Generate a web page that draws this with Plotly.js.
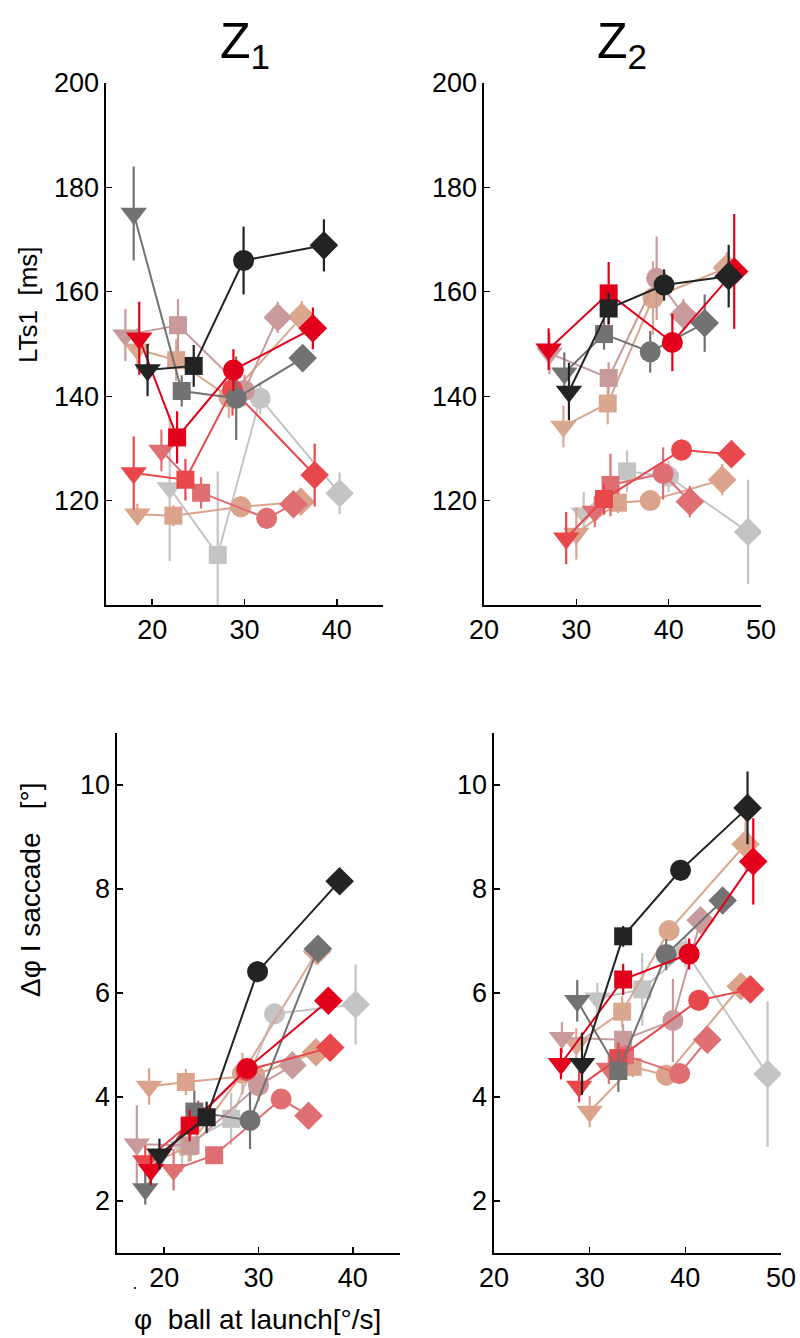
<!DOCTYPE html>
<html>
<head>
<meta charset="utf-8">
<script src="https://cdn.plot.ly/plotly-3.0.1.min.js"></script>
<style>html,body{margin:0;padding:0;background:#fff;}#chart{width:800px;height:1338px;}</style>
</head>
<body>
<div id="chart"></div>
<script>
// Subjects (one colour each). Points per subject: slowest→fastest launch speed
const subjects = ['lightgray','tanLower','tanUpper','rose','salmon','coral','darkgray','red','black'];
const subjectColors = ['#c4c4c4','#dba38c','#d9a88f','#c99a9c','#df6f72','#e8474b','#727272','#e2001a','#232323'];
const pointSymbols = ['triangle-down','square','circle','diamond'];
const pointSizes = [23,18,21,22];

// Z1: ball speed at launch [°/s]
const z1Speed = [
  [21.9, 27.1, 31.7, 40.3],
  [18.4, 22.3, 29.6, 36.1],
  [18.4, 22.6, 28.3, 36.2],
  [17.1, 22.8, 30.0, 33.6],
  [21.0, 25.3, 32.4, 35.3],
  [18.0, 23.6, 28.7, 37.6],
  [18.0, 23.2, 29.1, 36.3],
  [18.6, 22.7, 28.8, 37.4],
  [19.5, 24.5, 29.9, 38.6]
];
// Z1: LTs1 [ms] and error
const z1LT = [
  [122.4, 109.6, 139.6, 121.4],
  [117.4, 117.1, 118.8, 119.8],
  [149.0, 146.9, 139.8, 155.2],
  [151.7, 153.6, 141.1, 155.1],
  [129.6, 121.5, 116.6, 119.3],
  [125.3, 124.0, 141.3, 124.9],
  [175.0, 141.0, 139.6, 147.3],
  [151.1, 132.1, 145.0, 153.0],
  [145.0, 145.8, 166.0, 168.9]
];
const z1LTErr = [
  [14, 16, 3, 4],
  [2, 2, 2, 2],
  [4, 4, 4, 3],
  [5, 5, 3, 3],
  [4, 3, 2, 2],
  [7, 4, 5, 6],
  [9, 3, 8, 2],
  [7, 5, 4, 4],
  [5, 4, 6.5, 5]
];
// Z1: saccade amplitude [°] and error
const z1Sacc = [
  [3.05, 3.58, 5.60, 5.78],
  [4.20, 4.29, 4.42, 4.86],
  [2.70, 3.05, 4.45, 6.80],
  [3.09, 3.07, 4.22, 4.61],
  [2.60, 2.88, 3.96, 3.64],
  [2.77, 3.63, 4.51, 4.95],
  [2.23, 3.72, 3.55, 6.85],
  [2.60, 3.45, 4.55, 5.85],
  [2.90, 3.61, 6.41, 8.15]
];
const z1SaccErr = [
  [0.5, 0.5, 0.2, 0.77],
  [0.35, 0.25, 0.2, 0.2],
  [0.3, 0.3, 0.4, 0.2],
  [0.75, 0.3, 0.3, 0.15],
  [0.4, 0.15, 0.15, 0.15],
  [0.3, 0.3, 0.2, 0.25],
  [0.3, 0.4, 0.55, 0.2],
  [0.3, 0.3, 0.2, 0.2],
  [0.3, 0.3, 0.2, 0.15]
];

// Z2: ball speed at launch [°/s]
const z2Speed = [
  [30.8, 35.5, 40.0, 48.6],
  [30.0, 34.5, 38.0, 45.8],
  [28.6, 33.4, 38.3, 46.3],
  [27.1, 33.5, 38.7, 41.6],
  [32.0, 33.7, 39.4, 42.3],
  [28.9, 33.0, 41.4, 46.8],
  [28.7, 33.0, 38.0, 43.9],
  [27.0, 33.5, 40.4, 47.1],
  [29.2, 33.5, 39.5, 46.5]
];
const z2LT = [
  [117.6, 125.6, 124.6, 114.0],
  [113.7, 119.6, 120.0, 124.0],
  [134.2, 138.6, 158.8, 164.6],
  [148.2, 143.5, 162.6, 155.6],
  [117.9, 123.0, 125.2, 119.8],
  [112.8, 120.3, 129.7, 128.9],
  [144.4, 151.9, 148.5, 154.0],
  [149.0, 159.7, 150.3, 163.9],
  [140.9, 156.8, 161.3, 163.0]
];
const z2LTErr = [
  [4, 4, 3, 10],
  [5, 2, 2, 3],
  [4, 4, 7, 3],
  [4, 3, 8, 3],
  [3, 6, 5, 3],
  [5, 3, 2, 2],
  [4, 3, 4, 5.5],
  [4, 6, 5.5, 11],
  [5.5, 3, 3, 6]
];
const z2Sacc = [
  [5.90, 6.07, 6.80, 4.44],
  [3.72, 4.58, 4.42, 6.13],
  [5.02, 5.64, 7.20, 8.86],
  [5.14, 5.10, 5.47, 7.40],
  [4.55, 4.80, 4.45, 5.10],
  [4.20, 4.75, 5.86, 6.07],
  [5.85, 4.50, 6.74, 7.78],
  [4.64, 6.26, 6.75, 8.53],
  [4.64, 7.09, 8.36, 9.56]
];
const z2SaccErr = [
  [0.3, 0.7, 0.3, 1.4],
  [0.3, 0.2, 0.2, 0.2],
  [0.3, 0.3, 0.2, 0.5],
  [0.3, 0.3, 0.8, 0.2],
  [0.3, 0.2, 0.2, 0.2],
  [0.3, 0.3, 0.2, 0.2],
  [0.4, 0.4, 0.3, 0.2],
  [0.3, 0.3, 0.3, 0.83],
  [0.6, 0.2, 0.2, 0.7]
];

const xTicksZ1 = [20, 30, 40];
const xTicksZ2 = [20, 30, 40, 50];
const yTicksLT = [120, 140, 160, 180, 200];
const yTicksSacc = [2, 4, 6, 8, 10];

const FONT = 'Liberation Sans, Arial, sans-serif';

function panelTraces(xs, ys, errs, xa, ya) {
  return subjects.map((name, i) => ({
    type: 'scatter', mode: 'lines+markers', name: name,
    x: xs[i], y: ys[i], xaxis: xa, yaxis: ya,
    line: {color: subjectColors[i], width: 2},
    marker: {color: subjectColors[i], symbol: pointSymbols, size: pointSizes, opacity: 1, line: {width: 0}},
    error_y: {type: 'data', array: errs[i], visible: true, color: subjectColors[i], thickness: 2.2, width: 0},
    hoverinfo: 'x+y'
  }));
}

const data = [].concat(
  panelTraces(z1Speed, z1LT, z1LTErr, 'x', 'y'),
  panelTraces(z2Speed, z2LT, z2LTErr, 'x2', 'y2'),
  panelTraces(z1Speed, z1Sacc, z1SaccErr, 'x3', 'y3'),
  panelTraces(z2Speed, z2Sacc, z2SaccErr, 'x4', 'y4')
);

const W = 800, H = 1338;
function xd(a, b) { return [a / W, b / W]; }
function yd(top, bottom) { return [1 - bottom / H, 1 - top / H]; }

const axBase = {
  showline: true, linecolor: '#000', linewidth: 1.6, ticks: 'inside', ticklen: 6,
  tickwidth: 1.4, tickcolor: '#000', showgrid: false, zeroline: false, mirror: false,
  tickfont: {family: FONT, size: 27, color: '#000'}, fixedrange: true
};
function ax(o) { return Object.assign({}, axBase, o); }

const layout = {
  width: W, height: H, margin: {l: 0, r: 0, t: 0, b: 0},
  paper_bgcolor: '#fff', plot_bgcolor: '#fff', showlegend: false,
  font: {family: FONT, color: '#000'},
  xaxis:  ax({domain: xd(106, 383), range: [15, 45], tickvals: xTicksZ1, anchor: 'y'}),
  yaxis:  ax({domain: yd(83, 605), range: [100, 200], tickvals: yTicksLT, anchor: 'x'}),
  xaxis2: ax({domain: xd(484, 761), range: [20, 50], tickvals: xTicksZ2, anchor: 'y2'}),
  yaxis2: ax({domain: yd(83, 605), range: [100, 200], tickvals: yTicksLT, anchor: 'x2'}),
  xaxis3: ax({domain: xd(117, 400), range: [15, 45], tickvals: xTicksZ1, anchor: 'y3'}),
  yaxis3: ax({domain: yd(733, 1253), range: [1, 11], tickvals: yTicksSacc, anchor: 'x3'}),
  xaxis4: ax({domain: xd(494, 781), range: [20, 50], tickvals: xTicksZ2, anchor: 'y4'}),
  yaxis4: ax({domain: yd(733, 1253), range: [1, 11], tickvals: yTicksSacc, anchor: 'x4'}),
  annotations: [
    {text: 'Z<sub>1</sub>', xref: 'paper', yref: 'paper', x: 245 / W, y: 1 - 45 / H, showarrow: false,
     xanchor: 'center', yanchor: 'middle', font: {family: FONT, size: 50}},
    {text: 'Z<sub>2</sub>', xref: 'paper', yref: 'paper', x: 622 / W, y: 1 - 45 / H, showarrow: false,
     xanchor: 'center', yanchor: 'middle', font: {family: FONT, size: 50}},
    {text: 'LTs1  [ms]', xref: 'paper', yref: 'paper', x: 28 / W, y: 1 - 305 / H, showarrow: false,
     textangle: -90, xanchor: 'center', yanchor: 'middle', font: {family: FONT, size: 26}},
    {text: 'Δφ I saccade   [°]', xref: 'paper', yref: 'paper', x: 30 / W, y: 1 - 890 / H, showarrow: false,
     textangle: -90, xanchor: 'center', yanchor: 'middle', font: {family: FONT, size: 28}},
    {text: 'φ  ball at launch[°/s]', xref: 'paper', yref: 'paper', x: 257 / W, y: 1 - 1319 / H, showarrow: false,
     xanchor: 'center', yanchor: 'middle', font: {family: FONT, size: 28}},
    {text: '·', xref: 'paper', yref: 'paper', x: 135 / W, y: 1 - 1287 / H, showarrow: false,
     xanchor: 'center', yanchor: 'middle', font: {family: FONT, size: 18}}
  ]
};

Plotly.newPlot('chart', data, layout, {displayModeBar: false, staticPlot: true});
</script>
</body>
</html>
